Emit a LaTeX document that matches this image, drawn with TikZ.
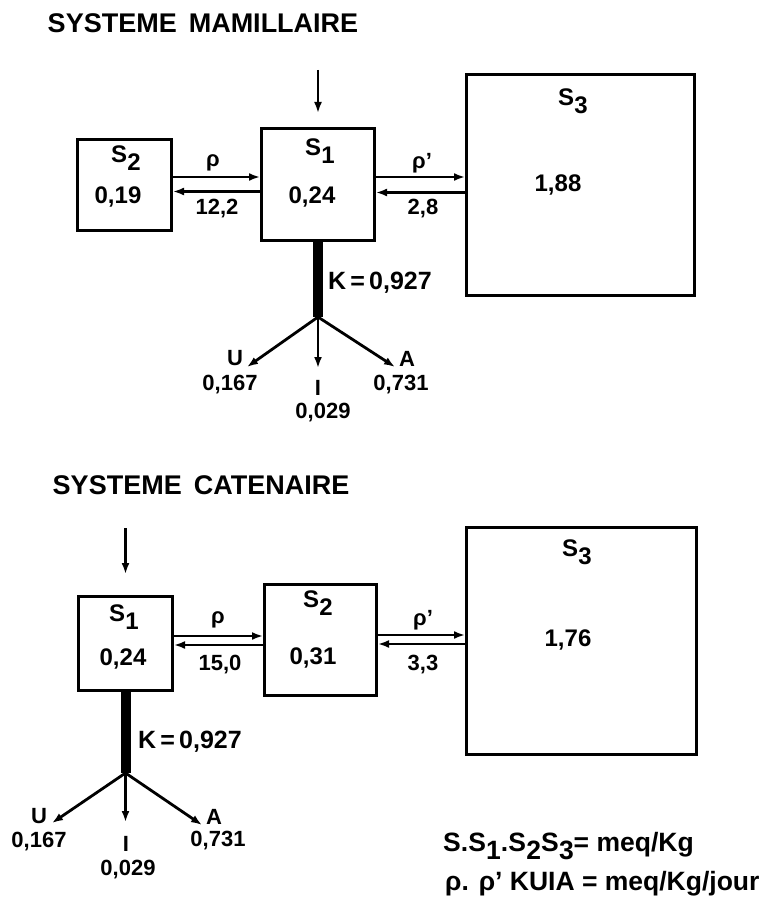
\documentclass[tikz,border=0pt]{standalone}
\usepackage{fontspec}
\setmainfont{Liberation Sans}
\usetikzlibrary{arrows.meta,calc}
\newcommand{\Ssub}[1]{S\kern0.3pt\raisebox{-0.6ex}{#1}}
\begin{document}
\begin{tikzpicture}[x=1pt,y=-1pt,
  box/.style={draw,line width=3pt,inner sep=0pt},
  flow/.style={line width=2.8pt,-{Latex[length=11pt,width=8pt]}},
  bar/.style={line width=10pt},
  ttl/.style={inner sep=0pt,font=\fontsize{27}{27}\selectfont\bfseries},
  txt/.style={inner sep=0pt,font=\fontsize{24}{24}\selectfont\bfseries},
  val/.style={inner sep=0pt,font=\fontsize{22}{22}\selectfont\bfseries},
  klab/.style={inner sep=0pt,anchor=west,font=\fontsize{25}{25}\selectfont\bfseries},
  fan/.style={inner sep=0pt,font=\fontsize{22}{22}\selectfont\bfseries},
  leg/.style={inner sep=0pt,anchor=west,font=\fontsize{26.5}{26.5}\selectfont\bfseries}]
\useasboundingbox (0,0) rectangle (761,901);

% ---------- SYSTEME MAMILLAIRE ----------
\node[ttl] (t1) at (203,23) {SYSTEME\, MAMILLAIRE};

\node[box,minimum width=94pt,minimum height=91pt] (S2) at (124.5,185) {};
\node[box,minimum width=113pt,minimum height=112pt] (S1) at (318,184.5) {};
\node[box,minimum width=228pt,minimum height=221pt] (S3) at (580.5,185) {};

\node[txt] (S2l) at (126,158) {\Ssub{2}};
\node[txt] (S2v) at (118,197) {0,19};
\node[txt] (S1l) at (320,151) {\Ssub{1}};
\node[txt] (S1v) at (312,197) {0,24};
\node[txt] (S3l) at (573,101) {\Ssub{3}};
\node[txt] (S3v) at (558,185) {1,88};

\coordinate (in1) at (318,70);
\draw[flow] (in1) -- ([yshift=14pt]S1.north);

\draw[flow] ([yshift=8pt]S2.east) -- ([yshift=8pt]S2.east -| S1.west);
\draw[flow] ([yshift=-7pt]S1.west) -- ([yshift=-7pt]S1.west -| S2.east);
\draw[flow] ([yshift=7.5pt]S1.east) -- ([yshift=7.5pt]S1.east -| S3.west);
\draw[flow] ([yshift=-7.5pt]S3.west) -- ([yshift=-7.5pt]S3.west -| S1.east);

\node[val] (r1) at (213,163) {ρ};
\node[val] (r1v) at (217,209) {12,2};
\node[val] (rp1) at (422,163) {ρ’};
\node[val] (rp1v) at (423,209) {2,8};

\coordinate (br1) at (318,317);
\draw[bar] (S1.south) -- (br1);
\node[klab] (K1) at (328,283) {K\,=\,0,927};
\coordinate (u1) at (247,367);
\coordinate (i1) at (318,368);
\coordinate (a1) at (395,367);
\draw[flow] (br1) -- (u1);
\draw[flow] (br1) -- (i1);
\draw[flow] (br1) -- (a1);
\node[fan] (U1) at (235,358) {U};
\node[fan] (U1v) at (230,385) {0,167};
\node[fan] (I1) at (318,388) {I};
\node[fan] (I1v) at (323,413) {0,029};
\node[fan] (A1) at (407,359) {A};
\node[fan] (A1v) at (401,385) {0,731};

% ---------- SYSTEME CATENAIRE ----------
\node[ttl] (t2) at (201,485) {SYSTEME\, CATENAIRE};

\node[box,minimum width=94pt,minimum height=94pt] (B1) at (125.5,643.5) {};
\node[box,minimum width=112pt,minimum height=111pt] (B2) at (320.5,640) {};
\node[box,minimum width=230pt,minimum height=227pt] (B3) at (581.5,641) {};

\node[txt] (B1l) at (124,617) {\Ssub{1}};
\node[txt] (B1v) at (123,659) {0,24};
\node[txt] (B2l) at (318,603) {\Ssub{2}};
\node[txt] (B2v) at (313,658) {0,31};
\node[txt] (B3l) at (577,552) {\Ssub{3}};
\node[txt] (B3v) at (568,640) {1,76};

\coordinate (in2) at (125.5,528);
\draw[flow] (in2) -- ([yshift=21pt]B1.north);

\draw[flow] ([yshift=7.5pt]B1.east) -- ([yshift=7.5pt]B1.east -| B2.west);
\draw[flow] ([yshift=-5pt]B2.west) -- ([yshift=-5pt]B2.west -| B1.east);
\draw[flow] ([yshift=5pt]B2.east) -- ([yshift=5pt]B2.east -| B3.west);
\draw[flow] ([yshift=-3pt]B3.west) -- ([yshift=-3pt]B3.west -| B2.east);

\node[val] (r2) at (218,620) {ρ};
\node[val] (r2v) at (220,665) {15,0};
\node[val] (rp2) at (423,620) {ρ’};
\node[val] (rp2v) at (423,665) {3,3};

\coordinate (br2) at (125.5,773);
\draw[bar] (B1.south) -- (br2);
\node[klab] (K2) at (138,742) {K\,=\,0,927};
\coordinate (u2) at (52,823);
\coordinate (i2) at (125.5,822);
\coordinate (a2) at (202,825);
\draw[flow] (br2) -- (u2);
\draw[flow] (br2) -- (i2);
\draw[flow] (br2) -- (a2);
\node[fan] (U2) at (39,816) {U};
\node[fan] (U2v) at (39,842) {0,167};
\node[fan] (I2) at (126,844) {I};
\node[fan] (I2v) at (128,870) {0,029};
\node[fan] (A2) at (214,817) {A};
\node[fan] (A2v) at (218,841) {0,731};

% ---------- legend ----------
\node[leg] (L1) at (443,846) {S.\Ssub{1}.\Ssub{2}\Ssub{3}= meq/Kg};
\node[leg] (L2) at (445,884) {ρ. ρ’ KUIA = meq/Kg/jour};
\end{tikzpicture}
\end{document}
